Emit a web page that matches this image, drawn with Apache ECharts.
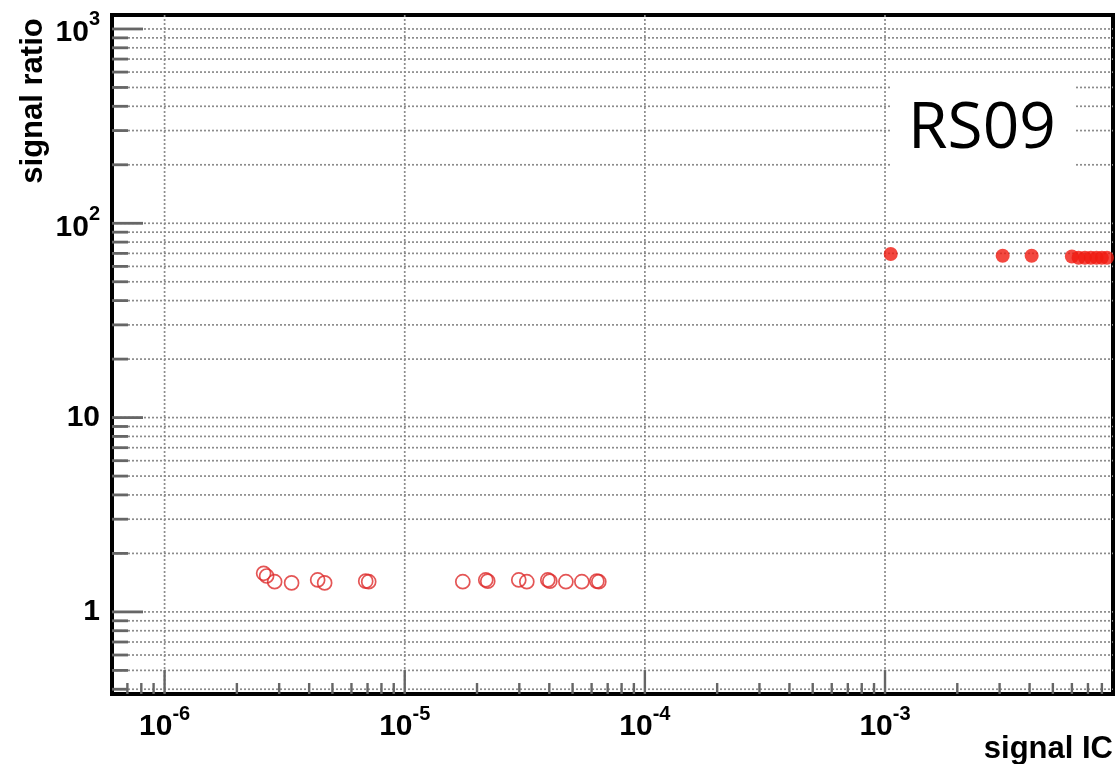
<!DOCTYPE html>
<html>
<head>
<meta charset="utf-8">
<script src="https://cdn.jsdelivr.net/npm/echarts@6/dist/echarts.min.js"></script>
<style>
  html, body { margin: 0; padding: 0; background: #fff; }
  #chart { width: 1118px; height: 764px; }
</style>
</head>
<body>
<div id="chart"></div>
<script>
// Axis ranges (log scales)
const xRange = [6.04e-7, 8.9e-3];
const yRange = [0.378, 1180];

// Decades that carry a labelled major tick
const xDecades = [-6, -5, -4, -3];
const yDecades = [0, 1, 2, 3];
const xDecadeLabels = ['{m|10}{s|-6}', '{m|10}{s|-5}', '{m|10}{s|-4}', '{m|10}{s|-3}'];
const yDecadeLabels = ['1', '10', '{m|10}{s|2}', '{m|10}{s|3}'];
// mantissas of the minor ticks inside each decade
const minorMantissas = [2, 3, 4, 5, 6, 7, 8, 9];

// Low-signal points (open markers)
const openX = [2.585e-6, 2.66e-6, 2.873e-6, 3.38e-6, 4.34e-6, 4.64e-6, 6.88e-6, 7.08e-6,
               1.745e-5, 2.175e-5, 2.217e-5, 2.985e-5, 3.224e-5, 3.943e-5, 4.02e-5,
               4.69e-5, 5.465e-5, 6.31e-5, 6.43e-5];
const openY = [1.58, 1.53, 1.43, 1.41, 1.46, 1.41, 1.44, 1.43,
               1.43, 1.46, 1.44, 1.46, 1.43, 1.46, 1.44,
               1.43, 1.43, 1.44, 1.43];

// High-signal points (filled markers)
const fullX = [1.056e-3, 3.09e-3, 4.08e-3, 6.0e-3, 6.4e-3, 6.8e-3, 7.2e-3, 7.6e-3, 8.0e-3, 8.4e-3];
const fullY = [69.5, 68, 68, 67.5, 66.5, 66.5, 66.5, 66.5, 66.5, 66.5];

const panelLabel = 'RS09';
const xTitle = 'signal IC';
const yTitle = 'signal ratio';

const FONT = '"Liberation Sans", Arial, Helvetica, sans-serif';

// tick positions in data space: [value, isMajor]
function tickList(range, decades) {
  const out = [];
  const lo = Math.floor(Math.log10(range[0]));
  const hi = Math.ceil(Math.log10(range[1]));
  for (let e = lo; e <= hi; e++) {
    const base = Math.pow(10, e);
    if (base >= range[0] && base <= range[1]) out.push([base, decades.indexOf(e) >= 0 ? 1 : 0]);
    minorMantissas.forEach(m => {
      const v = m * base;
      if (v > range[0] * 1.001 && v < range[1] * 0.999) out.push([v, 0]);
    });
  }
  return out;
}
const yTicks = tickList(yRange, yDecades);
const xTicks = tickList(xRange, xDecades);

function decadeLabel(decades, labels) {
  return function (v) {
    const l = Math.log10(v);
    const e = Math.round(l);
    if (Math.abs(l - e) > 0.01) return '';
    const i = decades.indexOf(e);
    return i >= 0 ? labels[i] : '';
  };
}

const rich = {
  m: { fontFamily: FONT, fontWeight: 'bold', fontSize: 30, lineHeight: 38, verticalAlign: 'bottom', color: '#000' },
  s: { fontFamily: FONT, fontWeight: 'bold', fontSize: 20, lineHeight: 20, verticalAlign: 'top', color: '#000' }
};

const GRID_COLOR = '#8c8c8c';
const TICK_COLOR = '#666';

const chart = echarts.init(document.getElementById('chart'), null, { renderer: 'canvas' });

chart.setOption({
  backgroundColor: '#fff',
  animation: false,
  grid: {
    left: 112, right: 5, top: 15, bottom: 70,
    show: true, borderColor: '#000', borderWidth: 4, backgroundColor: 'transparent'
  },
  xAxis: {
    type: 'log', logBase: 10, min: xRange[0], max: xRange[1],
    axisLine: { show: false },
    axisTick: { show: false },
    splitLine: { show: false },
    axisLabel: {
      showMinLabel: false, showMaxLabel: false,
      margin: 10,
      formatter: decadeLabel(xDecades, xDecadeLabels),
      fontFamily: FONT, fontWeight: 'bold', fontSize: 30, color: '#000',
      rich: rich
    }
  },
  yAxis: {
    type: 'log', logBase: 10, min: yRange[0], max: yRange[1],
    axisLine: { show: false },
    axisTick: { show: false },
    splitLine: { show: false },
    axisLabel: {
      showMinLabel: false, showMaxLabel: false,
      margin: 12,
      formatter: decadeLabel(yDecades, yDecadeLabels),
      fontFamily: FONT, fontWeight: 'bold', fontSize: 30, color: '#000',
      rich: rich
    }
  },
  series: [
    {
      // horizontal dotted grid at every y tick, plus the ticks on the left edge
      type: 'custom',
      z: 1,
      silent: true,
      data: yTicks.map(t => [xRange[0], t[0], t[1]]),
      renderItem: function (params, api) {
        const cs = params.coordSys;
        const y = api.coord([xRange[0], api.value(1)])[1];
        const major = api.value(2) === 1;
        return {
          type: 'group',
          children: [
            { type: 'line', shape: { x1: cs.x, y1: y, x2: cs.x + cs.width, y2: y },
              style: { stroke: GRID_COLOR, lineWidth: 1.7, lineDash: [2, 2] } },
            { type: 'line', shape: { x1: cs.x, y1: y, x2: cs.x + (major ? 31 : 16), y2: y },
              style: { stroke: TICK_COLOR, lineWidth: 2.8 } }
          ]
        };
      }
    },
    {
      // vertical dotted grid at decades, plus the ticks on the bottom edge
      type: 'custom',
      z: 1,
      silent: true,
      data: xTicks.map(t => [t[0], yRange[0], t[1]]),
      renderItem: function (params, api) {
        const cs = params.coordSys;
        const x = api.coord([api.value(0), yRange[0]])[0];
        const major = api.value(2) === 1;
        const bottom = cs.y + cs.height;
        const children = [
          { type: 'line', shape: { x1: x, y1: bottom, x2: x, y2: bottom - (major ? 24 : 11) },
            style: { stroke: TICK_COLOR, lineWidth: 2.4 } }
        ];
        if (major) {
          children.unshift({ type: 'line', shape: { x1: x, y1: cs.y, x2: x, y2: bottom },
            style: { stroke: GRID_COLOR, lineWidth: 1.7, lineDash: [2, 2] } });
        }
        return { type: 'group', children: children };
      }
    },
    {
      type: 'scatter',
      z: 5,
      symbol: 'circle',
      symbolSize: 14,
      data: openX.map((x, i) => [x, openY[i]]),
      itemStyle: { color: 'rgba(0,0,0,0)', borderColor: '#dd2b2b', borderWidth: 1.7 }
    },
    {
      type: 'scatter',
      z: 6,
      symbol: 'circle',
      symbolSize: 14,
      data: fullX.map((x, i) => [x, fullY[i]]),
      itemStyle: { color: '#f01a10' }
    }
  ],
  graphic: [
    {
      type: 'rect', z: 100,
      shape: { x: 890, y: 83, width: 184, height: 84 },
      style: { fill: '#fff' }
    },
    {
      type: 'text', z: 101,
      x: 982, y: 130,
      style: {
        text: panelLabel, font: '64px "Open Sans", sans-serif',
        fill: '#000', align: 'center', verticalAlign: 'middle'
      }
    },
    {
      type: 'text', z: 101,
      x: 1113, y: 749,
      style: {
        text: xTitle, font: 'bold 31px ' + FONT,
        fill: '#000', align: 'right', verticalAlign: 'middle'
      }
    },
    {
      type: 'text', z: 101,
      x: 33, y: 101, rotation: Math.PI / 2,
      style: {
        text: yTitle, font: 'bold 31px ' + FONT,
        fill: '#000', align: 'center', verticalAlign: 'middle'
      }
    }
  ]
});
</script>
</body>
</html>
